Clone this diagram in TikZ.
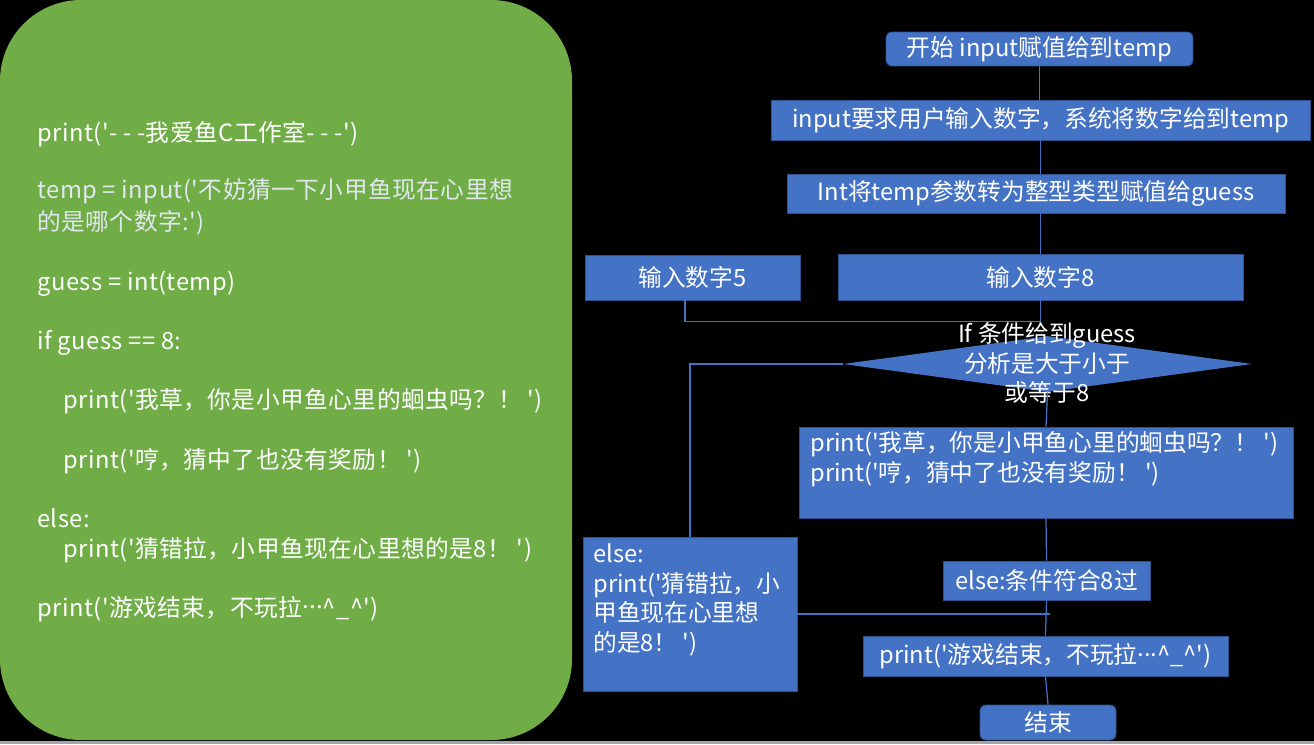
\documentclass[tikz,border=0pt]{standalone}
\usepackage{fontspec}
\setmainfont{Noto Sans CJK SC}[Ligatures=TeXOff]
\newfontfamily\codefamily{Noto Sans CJK SC}[Ligatures=TeXOff, LetterSpace=2]
\usetikzlibrary{shapes.geometric}

\definecolor{flowblue}{HTML}{4472C4}
\definecolor{flowedge}{HTML}{2F528F}
\definecolor{codegreen}{HTML}{70AD47}
\definecolor{codegrey}{HTML}{E2E7EF}

\newcommand{\flowfont}{\fontsize{13.5}{17}\selectfont}
\newcommand{\codefont}{\codefamily\fontsize{13.5}{17}\selectfont}
\newcommand{\middots}{\raisebox{0.3em}{...}}
\newcommand{\happyface}{\textasciicircum\_\textasciicircum}

\tikzset{
  box/.style={draw=flowedge, line width=0.5pt, fill=flowblue, text=white,
    inner sep=0pt, font=\flowfont},
  term/.style={box, rounded corners=0.12cm},
  boxtext/.style={anchor=north west, align=left, inner sep=0pt, text=white, font=\flowfont},
  link/.style={draw=flowblue, line width=0.7pt},
  code/.style={anchor=base west, inner sep=0pt, text=white, font=\codefont},
}

\begin{document}
\begin{tikzpicture}[x=0.02cm, y=-0.02cm]
  % Page
  \fill[black] (0,0) rectangle (1314,744);
  \useasboundingbox (0,0) rectangle (1314,744);
  \fill[gray!70] (0,741) rectangle (1314,744);

  % Source code panel
  \fill[codegreen, rounded corners=1.62cm] (0,0) rectangle (572,740);
  \node[code] (c1) at (37,141) {print('- - -我爱鱼C工作室- - -')};
  \node[code, text=codegrey] (c2) at (37,198) {temp = input('不妨猜一下小甲鱼现在心里想};
  \node[code, text=codegrey] (c3) at (37,230) {的是哪个数字:')};
  \node[code] (c4) at (37,290) {guess = int(temp)};
  \node[code] (c5) at (37,349) {if guess == 8:};
  \node[code] (c6) at (63,408) {print('我草，你是小甲鱼心里的蛔虫吗？！ ')};
  \node[code] (c7) at (63,468) {print('哼，猜中了也没有奖励！ ')};
  \node[code] (c8) at (37,527) {else:};
  \node[code] (c9) at (63,557) {print('猜错拉，小甲鱼现在心里想的是8！ ')};
  \node[code] (c10) at (37,616) {print('游戏结束，不玩拉\middots\happyface')};

  % Flow chart
  \node[term, minimum width=6.14cm, minimum height=0.68cm] (start) at (1039.5,49) {开始 input赋值给到temp};
  \node[box, minimum width=10.78cm, minimum height=0.8cm] (ask) at (1040.5,120) {input要求用户输入数字，系统将数字给到temp};
  \node[box, minimum width=9.96cm, minimum height=0.78cm] (toint) at (1036,193.5) {Int将temp参数转为整型类型赋值给guess};
  \node[box, minimum width=4.3cm, minimum height=0.9cm] (five) at (692.5,277.5) {输入数字5};
  \node[box, minimum width=8.1cm, minimum height=0.92cm] (eight) at (1040.5,277) {输入数字8};
  \node[diamond, fill=flowblue, inner sep=0pt, minimum width=8.18cm, minimum height=1.12cm] (test) at (1047.5,364) {};
  \node[align=center, inner sep=0pt, text=white, font=\flowfont] (testtext) at (1047,363) {If 条件给到guess\\分析是大于小于\\或等于8};
  \node[box, minimum width=9.88cm, minimum height=1.82cm] (hit) at (1046,472.5) {};
  \node[boxtext] (hittext) at (810,431) {print('我草，你是小甲鱼心里的蛔虫吗？！ ')\\print('哼，猜中了也没有奖励！ ')};
  \node[box, minimum width=4.28cm, minimum height=3.08cm] (miss) at (690,614) {};
  \node[boxtext] (misstext) at (593,543) {else:\\print('猜错拉，小\\甲鱼现在心里想\\的是8！ ')};
  \node[box, minimum width=4.14cm, minimum height=0.78cm] (pass) at (1046.5,580.5) {else:条件符合8过};
  \node[box, minimum width=7.3cm, minimum height=0.8cm] (bye) at (1045.5,656) {print('游戏结束，不玩拉\middots\happyface')};
  \node[term, minimum width=2.72cm, minimum height=0.7cm] (stop) at (1048,722.5) {结束};

  % Connectors
  \coordinate (join) at ([yshift=-0.42cm]eight.south);
  \coordinate (cross) at (1050,614);
  \draw[link] (start.south) -- (start.south |- ask.north);
  \draw[link] (ask.south) -- (ask.south |- toint.north);
  \draw[link] (eight.north |- toint.south) -- (eight.north);
  \draw[link] ([xshift=-0.15cm]five.south) |- (join);
  \draw[link] (eight.south) -- (join);
  \draw[link] (test.west) -| (miss.north);
  \draw[link] (test.south) -- (hit.north);
  \draw[link] (hit.south) -- (pass.north);
  \draw[link] (pass.south) -- (bye.north);
  \draw[link] (miss.east) -- (cross);
  \draw[link] (bye.south) -- (stop.north);
\end{tikzpicture}
\end{document}
